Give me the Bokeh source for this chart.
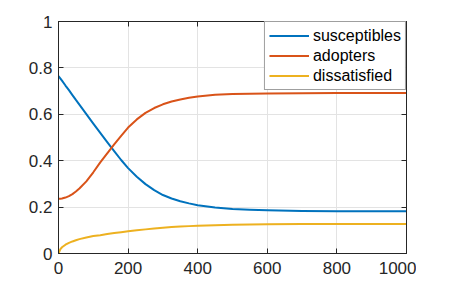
from bokeh.plotting import figure
from bokeh.models import LinearAxis, FixedTicker, Range1d, Legend, LegendItem
from bokeh.embed import file_html
from bokeh.resources import INLINE

# ---- data ----
t = [0, 5, 10, 20, 30, 40, 50, 60, 80, 100, 120, 140, 160, 180, 200, 225, 250, 275, 300,
     325, 350, 375, 400, 450, 500, 550, 600, 700, 800, 900, 1000]
susceptibles = [0.765, 0.755, 0.745, 0.724, 0.704, 0.683, 0.662, 0.642, 0.601, 0.560, 0.520,
                0.480, 0.441, 0.403, 0.368, 0.331, 0.299, 0.273, 0.252, 0.237, 0.225, 0.216,
                0.208, 0.198, 0.192, 0.189, 0.186, 0.183, 0.182, 0.182, 0.182]
adopters = [0.236, 0.236, 0.237, 0.241, 0.247, 0.256, 0.267, 0.280, 0.311, 0.350, 0.393,
            0.432, 0.470, 0.507, 0.543, 0.578, 0.606, 0.627, 0.643, 0.655, 0.664, 0.671,
            0.677, 0.684, 0.687, 0.689, 0.690, 0.691, 0.692, 0.692, 0.692]
dissatisfied = [0.0, 0.018, 0.027, 0.038, 0.046, 0.052, 0.057, 0.062, 0.069, 0.075, 0.079,
                0.084, 0.088, 0.092, 0.096, 0.100, 0.104, 0.108, 0.111, 0.114, 0.116, 0.118,
                0.120, 0.122, 0.124, 0.125, 0.126, 0.127, 0.127, 0.127, 0.127]

series_names = ["susceptibles", "adopters", "dissatisfied"]
x_ticks = [0, 200, 400, 600, 800, 1000]
y_ticks = [0, 0.2, 0.4, 0.6, 0.8, 1]
y_tick_labels = {0: "0", 0.2: "0.2", 0.4: "0.4", 0.6: "0.6", 0.8: "0.8", 1: "1"}

colors = ["#0072BD", "#D95319", "#EDB120"]
AX = "#262626"
FONT = "Liberation Sans"

p = figure(frame_width=348, frame_height=232, output_backend="svg", toolbar_location=None,
           x_range=Range1d(0, 1000), y_range=Range1d(0, 1),
           min_border_left=58, min_border_top=21, min_border_right=10, min_border_bottom=10)
p.background_fill_color = "white"
p.border_fill_color = "white"
p.outline_line_color = AX
p.outline_line_width = 1

for ax in (p.xaxis[0], p.yaxis[0]):
    ax.axis_line_color = AX
    ax.major_tick_line_color = AX
    ax.major_tick_in = 5
    ax.major_tick_out = 0
    ax.minor_tick_line_color = None
    ax.major_label_text_font = FONT
    ax.major_label_text_font_size = "17px"
    ax.major_label_text_color = AX

p.xaxis[0].ticker = FixedTicker(ticks=x_ticks)
p.yaxis[0].ticker = FixedTicker(ticks=y_ticks)
p.yaxis[0].major_label_overrides = y_tick_labels
p.xaxis[0].major_label_standoff = 8
p.yaxis[0].major_label_standoff = 6

# box axes (top / right) with inward ticks, no labels
top = LinearAxis(ticker=FixedTicker(ticks=x_ticks),
                 major_label_overrides={v: "" for v in x_ticks},
                 major_tick_in=5, major_tick_out=0, minor_tick_line_color=None,
                 axis_line_color=AX, major_tick_line_color=AX, major_label_standoff=0)
right = LinearAxis(ticker=FixedTicker(ticks=y_ticks),
                   major_label_overrides={v: "" for v in y_ticks},
                   major_tick_in=5, major_tick_out=0, minor_tick_line_color=None,
                   axis_line_color=AX, major_tick_line_color=AX, major_label_standoff=0)
p.add_layout(top, "above")
p.add_layout(right, "right")

p.xgrid.ticker = FixedTicker(ticks=x_ticks)
p.ygrid.ticker = FixedTicker(ticks=y_ticks)
p.grid.grid_line_color = "#e3e3e3"
p.grid.grid_line_width = 1

renderers = []
for ys, c in zip([susceptibles, adopters, dissatisfied], colors):
    r = p.line(t, ys, line_color=c, line_width=2, line_join="round")
    renderers.append(r)

legend = Legend(items=[LegendItem(label=n, renderers=[r]) for n, r in zip(series_names, renderers)],
                location="top_right", margin=0, padding=4, spacing=1,
                glyph_width=40, glyph_height=19, label_height=19, label_standoff=4,
                label_text_font=FONT, label_text_font_size="16px", label_text_color="black",
                border_line_color="#404040", border_line_width=1,
                background_fill_color="white", background_fill_alpha=1)
p.add_layout(legend, "center")

open("out.html", "w").write(file_html(p, INLINE))
